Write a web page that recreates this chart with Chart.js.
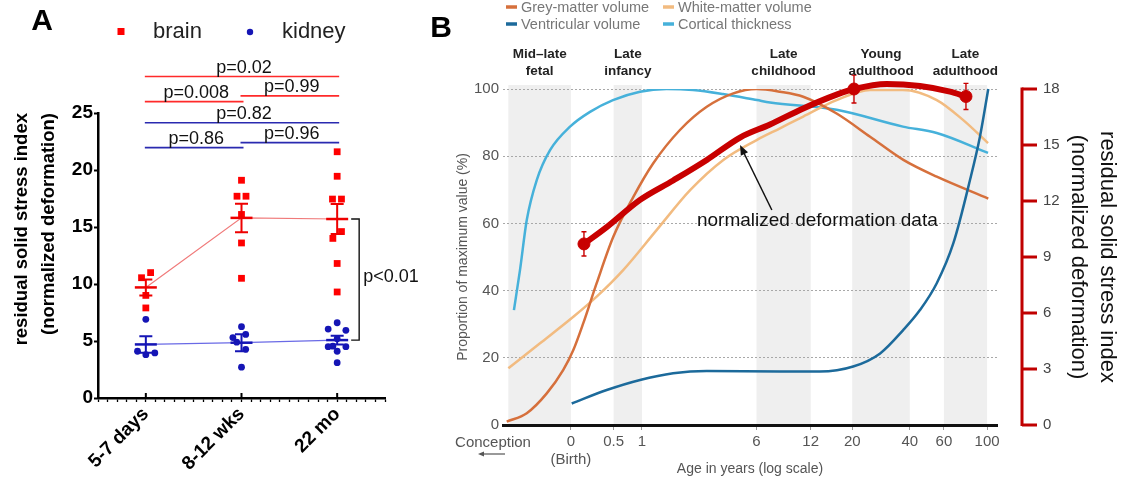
<!DOCTYPE html>
<html><head><meta charset="utf-8">
<script src="https://cdn.jsdelivr.net/npm/chart.js@4.4.1/dist/chart.umd.min.js"></script>
<style>
html,body{margin:0;padding:0;background:#fff;width:1126px;height:480px;overflow:hidden;}
#wa{position:absolute;left:0;top:0;width:430px;height:480px;}
#wb{position:absolute;left:430px;top:0;width:696px;height:480px;}
</style></head><body>
<div id="wa"><canvas id="ca" width="430" height="480"></canvas></div>
<div id="wb"><canvas id="cb" width="696" height="480"></canvas></div>
<script>
// ---------------- Panel A data ----------------
const groupLabels = ['5-7 days', '8-12 wks', '22 mo'];
const groupPos = [1, 2, 3];
const brainX = [0.955, 1.05, 1.0, 1.0, 2.0, 1.953, 2.047, 2.0, 2.0, 2.0, 3.0, 3.0, 2.951, 3.045, 2.955, 3.045, 3.0, 3.0];
const brainY = [10.55, 11.0, 9.0, 7.9, 19.1, 17.7, 17.7, 16.1, 13.6, 10.5, 21.6, 19.45, 17.45, 17.45, 14.0, 14.6, 11.8, 9.3];
const kidneyX = [1.0, 0.913, 1.0, 1.094, 2.0, 1.91, 2.044, 1.95, 2.044, 2.0, 3.0, 2.906, 3.091, 3.0, 2.955, 2.906, 3.091, 3.0, 3.0];
const kidneyY = [6.9, 4.1, 3.8, 3.95, 6.26, 5.3, 5.58, 4.9, 4.27, 2.7, 6.6, 6.05, 5.94, 5.2, 4.55, 4.5, 4.5, 4.1, 3.1];
const brainMean = [9.7, 15.8, 15.7];
const brainSem = [0.7, 1.25, 1.32];
const kidneyMean = [4.7, 4.85, 5.08];
const kidneySem = [0.72, 0.75, 0.38];
const yTicksA = [0, 5, 10, 15, 20, 25];
// pairwise comparisons
const pText = ['p=0.02', 'p=0.008', 'p=0.99', 'p=0.82', 'p=0.86', 'p=0.96'];
const pFrom = [1, 1, 2, 1, 1, 2];
const pTo = [3, 2, 3, 3, 2, 3];
const pLevel = [28.2, 26.0, 26.5, 24.15, 21.96, 22.4];
const pSeries = [0, 0, 0, 1, 1, 1];
const bracketText = 'p<0.01';

// ---------------- Panel B data ----------------
const GEST = 0.77; // years from conception to birth (x axis is post-conception age, log)
const xTickAges = [0, 0.5, 1, 6, 12, 20, 40, 60, 100];
const xTickLabels = ['0', '0.5', '1', '6', '12', '20', '40', '60', '100'];
const stageFrom = [-0.40, 0.5, 6, 20, 60];
const stageTo = [0, 1, 12, 40, 100];
const stageLine1 = ['Mid\u2013late', 'Late', 'Late', 'Young', 'Late'];
const stageLine2 = ['fetal', 'infancy', 'childhood', 'adulthood', 'adulthood'];
// curves: x = post-conception age (years), y = % of maximum
const greyX = [0.363, 0.459, 0.580, 0.704, 0.792, 0.890, 1.041, 1.265, 1.60, 2.02, 2.76, 3.78, 5.16, 6.78, 8.91, 11.7, 17.3, 25.6, 37.8, 55.9, 102.2];
const greyY = [1.0, 3.5, 9.4, 16.4, 22.3, 30.3, 42.2, 56.0, 67.9, 77.9, 87.8, 94.7, 98.7, 100, 99.2, 97.7, 92.7, 85.8, 78.9, 73.9, 67.4];
const whiteX = [0.370, 0.536, 0.792, 1.041, 1.42, 2.10, 3.11, 4.59, 6.78, 8.91, 11.7, 17.3, 25.6, 37.6, 55.9, 76.0, 101.9];
const whiteY = [16.9, 24.3, 32.2, 38.2, 46.1, 58.0, 69.9, 78.9, 84.8, 88.3, 91.8, 96.7, 99.7, 99.7, 96.7, 90.8, 83.9];
const ventX = [0.777, 1.171, 1.73, 2.55, 3.78, 8.91, 14.2, 21.0, 28.8, 37.8, 45.9, 55.9, 67.9, 82.5, 92.7, 102.2];
const ventY = [6.4, 10.4, 13.4, 15.4, 16.1, 15.9, 15.9, 17.4, 21.3, 28.3, 34.2, 42.2, 54.1, 72.9, 85.8, 100];
const cortX = [0.395, 0.424, 0.459, 0.516, 0.603, 0.762, 0.963, 1.26, 1.73, 2.36, 3.22, 4.57, 6.81, 7.93, 17.3, 37.6, 55.9, 101.9];
const cortY = [34.2, 46.1, 61.0, 72.9, 81.8, 88.8, 93.2, 96.7, 99.2, 100, 99.7, 98.5, 96.7, 96.0, 93.8, 88.8, 86.9, 81.0];
// normalized deformation (right axis units)
const defX = [0.897, 1.171, 1.73, 2.55, 3.78, 5.58, 7.93, 11.7, 17.3, 21.2, 31.1, 45.9, 65.3, 78.7];
const defY = [9.7, 10.6, 12.06, 13.1, 14.2, 15.4, 16.1, 16.96, 17.7, 18.0, 18.27, 18.16, 17.86, 17.6];
const markX = [0.897, 21.2, 78.7];
const markY = [9.7, 18.0, 17.6];
const markErr = [0.65, 0.75, 0.7];
const annotText = 'normalized deformation data';
const annotAt = [3.37, 60.7];      // x (post-conception yrs), y (%)
const arrowTail = [8.1, 64.0];
const arrowHead = [5.58, 83.3];

// ---------------- helpers ----------------
const FF = '"Liberation Sans", Arial, Helvetica, sans-serif';
Chart.defaults.font.family = FF;
const zip = (xs, ys) => xs.map((v, i) => ({x: v, y: ys[i]}));
const RED = '#ff0000', BLUE = '#1515b5';

function arrow(ctx, x1, y1, x2, y2, len, hw, color, lw) {
  const a = Math.atan2(y2 - y1, x2 - x1);
  ctx.strokeStyle = color; ctx.fillStyle = color; ctx.lineWidth = lw;
  ctx.beginPath(); ctx.moveTo(x1, y1);
  ctx.lineTo(x2 - Math.cos(a) * len * 0.8, y2 - Math.sin(a) * len * 0.8); ctx.stroke();
  ctx.beginPath(); ctx.moveTo(x2, y2);
  ctx.lineTo(x2 - Math.cos(a) * len - Math.sin(a) * hw, y2 - Math.sin(a) * len + Math.cos(a) * hw);
  ctx.lineTo(x2 - Math.cos(a) * len + Math.sin(a) * hw, y2 - Math.sin(a) * len - Math.cos(a) * hw);
  ctx.closePath(); ctx.fill();
}

// ---------------- Panel A ----------------
const aPlugin = {
  id: 'aExtras',
  afterDatasetsDraw(chart) {
    const {ctx, scales: {x, y}} = chart;
    ctx.save();
    ctx.lineWidth = 2;
    [[brainMean, brainSem, '#ee0000'], [kidneyMean, kidneySem, BLUE]].forEach(([m, s, c]) => {
      ctx.strokeStyle = c;
      groupPos.forEach((g, i) => {
        const px = x.getPixelForValue(g);
        const t = y.getPixelForValue(m[i] + s[i]), b = y.getPixelForValue(m[i] - s[i]);
        ctx.beginPath();
        ctx.moveTo(px, t); ctx.lineTo(px, b);
        ctx.moveTo(px - 6.5, t); ctx.lineTo(px + 6.5, t);
        ctx.moveTo(px - 6.5, b); ctx.lineTo(px + 6.5, b);
        ctx.stroke();
      });
    });
    ctx.restore();
  },
  afterDraw(chart) {
    const {ctx, scales: {x, y}} = chart;
    ctx.save();
    // panel letter
    ctx.fillStyle = '#000'; ctx.font = 'bold 30px ' + FF;
    ctx.textAlign = 'center'; ctx.textBaseline = 'middle';
    ctx.fillText('A', 42, 22);
    // legend
    const ds = chart.data.datasets;
    ctx.font = '22px ' + FF; ctx.textAlign = 'left'; ctx.fillStyle = '#222';
    ctx.fillStyle = ds[0].backgroundColor; ctx.fillRect(117.5, 28, 7, 7);
    ctx.fillStyle = '#222'; ctx.fillText(ds[0].label, 153, 32);
    ctx.fillStyle = ds[1].backgroundColor; ctx.beginPath(); ctx.arc(250, 32, 3.2, 0, Math.PI * 2); ctx.fill();
    ctx.fillStyle = '#222'; ctx.fillText(ds[1].label, 282, 32);
    // comparison bars
    ctx.font = '18px ' + FF; ctx.textAlign = 'center'; ctx.textBaseline = 'alphabetic';
    pText.forEach((t, i) => {
      const col = pSeries[i] === 0 ? '#ff2a2a' : '#2a2ab0';
      const x1 = x.getPixelForValue(pFrom[i]) - 1, x2 = x.getPixelForValue(pTo[i]) + 2;
      const py = y.getPixelForValue(pLevel[i]);
      ctx.strokeStyle = col; ctx.lineWidth = 1.6;
      ctx.beginPath(); ctx.moveTo(x1, py); ctx.lineTo(x2, py); ctx.stroke();
      ctx.fillStyle = '#111';
      ctx.fillText(t, (x1 + x2) / 2 + 2, py - 4);
    });
    // bracket between brain and kidney at last group
    const bx = x.getPixelForValue(groupPos[2]) + 22;
    const by1 = y.getPixelForValue(brainMean[2]), by2 = y.getPixelForValue(kidneyMean[2]);
    ctx.strokeStyle = '#111'; ctx.lineWidth = 1.4;
    ctx.beginPath();
    ctx.moveTo(bx - 8, by1); ctx.lineTo(bx, by1); ctx.lineTo(bx, by2); ctx.lineTo(bx - 8, by2);
    ctx.stroke();
    ctx.fillStyle = '#111'; ctx.textAlign = 'left'; ctx.textBaseline = 'middle';
    ctx.fillText(bracketText, bx + 4, (by1 + by2) / 2 - 3);
    // major ticks pointing up into the plot
    ctx.strokeStyle = '#000'; ctx.lineWidth = 2;
    groupPos.forEach(g => {
      const px = x.getPixelForValue(g);
      ctx.beginPath(); ctx.moveTo(px, y.bottom); ctx.lineTo(px, y.bottom - 5); ctx.stroke();
    });
    ctx.restore();
  }
};

new Chart(document.getElementById('ca'), {
  type: 'scatter',
  data: {
    datasets: [
      {label: 'brain', data: zip(brainX, brainY), pointStyle: 'rect', pointRadius: 4.8,
       backgroundColor: RED, borderColor: RED, pointBorderWidth: 0, order: 3},
      {label: 'kidney', data: zip(kidneyX, kidneyY), pointStyle: 'circle', pointRadius: 3.4,
       backgroundColor: BLUE, borderColor: BLUE, pointBorderWidth: 0, order: 4},
      {label: 'brain mean', type: 'line', data: zip(groupPos, brainMean), showLine: true,
       borderColor: '#f07a7a', borderWidth: 1.2, pointStyle: 'line', pointRadius: 11,
       pointBorderColor: '#ee0000', pointBorderWidth: 2.5, order: 1},
      {label: 'kidney mean', type: 'line', data: zip(groupPos, kidneyMean), showLine: true,
       borderColor: '#6a6ae6', borderWidth: 1.2, pointStyle: 'line', pointRadius: 11,
       pointBorderColor: BLUE, pointBorderWidth: 2.5, order: 2}
    ]
  },
  options: {
    responsive: false, animation: false, devicePixelRatio: 1, events: [],
    layout: {padding: {top: 113, right: 45, left: 0, bottom: 0}},
    plugins: {legend: {display: false}, tooltip: {enabled: false}},
    scales: {
      x: {
        type: 'linear', min: 0.5, max: 3.5,
        afterBuildTicks: s => { const t = []; for (let i = 5; i <= 35; i++) t.push({value: i / 10}); s.ticks = t; },
        afterFit: s => { s.height = 82; },
        ticks: {
          autoSkip: false, minRotation: 45, maxRotation: 45, padding: 1, color: '#000',
          font: {size: 19, weight: 'bold'},
          callback: v => { const r = Math.round(v); return Math.abs(v - r) < 1e-6 && r >= 1 && r <= 3 ? groupLabels[r - 1] : ''; }
        },
        grid: {drawOnChartArea: false, tickLength: 4, tickWidth: 1.3, tickColor: '#000'},
        border: {display: true, color: '#000', width: 2.5}
      },
      y: {
        type: 'linear', min: 0, max: 25,
        afterBuildTicks: s => { s.ticks = yTicksA.map(v => ({value: v})); },
        afterFit: s => { s.width = 98; },
        ticks: {color: '#000', font: {size: 19, weight: 'bold'}, padding: 1},
        grid: {drawOnChartArea: false, tickLength: 4, tickWidth: 2, tickColor: '#000'},
        border: {display: true, color: '#000', width: 2.5},
        title: {display: true, text: ['residual solid stress index', '(normalized deformation)'],
                color: '#000', align: 'end', font: {size: 18.5, weight: 'bold', lineHeight: 1.46},
                padding: {top: 8.5, bottom: 0}}
      }
    }
  },
  plugins: [aPlugin]
});

// ---------------- Panel B ----------------
const bPlugin = {
  id: 'bExtras',
  beforeDraw(chart) {
    const {ctx, chartArea: ca, scales: {x}} = chart;
    ctx.save();
    ctx.fillStyle = '#efefef';
    stageFrom.forEach((f, i) => {
      const x0 = x.getPixelForValue(f + GEST), x1 = x.getPixelForValue(stageTo[i] + GEST);
      ctx.fillRect(x0, ca.top - 4, x1 - x0, ca.bottom - ca.top + 4);
    });
    ctx.restore();
  },
  afterDatasetsDraw(chart) {
    const {ctx, scales: {x, y2}} = chart;
    ctx.save();
    ctx.strokeStyle = '#c80000'; ctx.lineWidth = 1.4;
    markX.forEach((mx, i) => {
      const px = x.getPixelForValue(mx);
      const t = y2.getPixelForValue(markY[i] + markErr[i]), b = y2.getPixelForValue(markY[i] - markErr[i]);
      ctx.beginPath();
      ctx.moveTo(px, t); ctx.lineTo(px, b);
      ctx.moveTo(px - 2.5, t); ctx.lineTo(px + 2.5, t);
      ctx.moveTo(px - 2.5, b); ctx.lineTo(px + 2.5, b);
      ctx.stroke();
    });
    ctx.restore();
  },
  afterDraw(chart) {
    const {ctx, chartArea: ca, scales: {x, y, y2}} = chart;
    const ds = chart.data.datasets;
    ctx.save();
    // panel letter
    ctx.fillStyle = '#000'; ctx.font = 'bold 30px ' + FF;
    ctx.textAlign = 'center'; ctx.textBaseline = 'middle';
    ctx.fillText('B', 11, 29);
    // legend 2x2
    const legendOrder = [2, 3, 4, 5];
    const colX = [76, 233], rowY = [7, 24];
    ctx.font = '14.5px ' + FF; ctx.textAlign = 'left';
    legendOrder.forEach((di, k) => {
      const cx = colX[k % 2], cy = rowY[Math.floor(k / 2)];
      ctx.strokeStyle = ds[di].borderColor; ctx.lineWidth = 3.5;
      ctx.beginPath(); ctx.moveTo(cx, cy); ctx.lineTo(cx + 11, cy); ctx.stroke();
      ctx.fillStyle = '#777'; ctx.fillText(ds[di].label, cx + 15, cy + 1);
    });
    // stage labels
    ctx.font = 'bold 13.5px ' + FF; ctx.textAlign = 'center'; ctx.fillStyle = '#222';
    stageFrom.forEach((f, i) => {
      const cx = (x.getPixelForValue(f + GEST) + x.getPixelForValue(stageTo[i] + GEST)) / 2;
      ctx.fillText(stageLine1[i], cx, 54);
      ctx.fillText(stageLine2[i], cx, 71);
    });
    // red right axis
    const ax = ca.right + 25;
    ctx.strokeStyle = '#c00000'; ctx.lineWidth = 3; ctx.lineCap = 'butt';
    ctx.beginPath(); ctx.moveTo(ax, y2.getPixelForValue(y2.max) - 1.5); ctx.lineTo(ax, y2.getPixelForValue(y2.min) + 1); ctx.stroke();
    y2.ticks.forEach(t => {
      const py = y2.getPixelForValue(t.value);
      ctx.beginPath(); ctx.moveTo(ax, py); ctx.lineTo(ax + 15, py); ctx.stroke();
    });
    // annotation
    ctx.fillStyle = '#111'; ctx.font = '19px ' + FF; ctx.textAlign = 'left'; ctx.textBaseline = 'middle';
    ctx.fillText(annotText, x.getPixelForValue(annotAt[0]), y.getPixelForValue(annotAt[1]));
    arrow(ctx, x.getPixelForValue(arrowTail[0]), y.getPixelForValue(arrowTail[1]),
          x.getPixelForValue(arrowHead[0]), y.getPixelForValue(arrowHead[1]), 10, 4, '#111', 1.5);
    // conception / birth notes
    ctx.fillStyle = '#555'; ctx.font = '15px ' + FF; ctx.textAlign = 'center';
    ctx.fillText('Conception', 63, 443);
    arrow(ctx, 75, 454, 48, 454, 6, 2.5, '#555', 1.2);
    ctx.fillText('(Birth)', x.getPixelForValue(GEST), 460);
    ctx.restore();
  }
};

const lineBase = {pointRadius: 0, borderWidth: 2.5, fill: false, cubicInterpolationMode: 'monotone', yAxisID: 'y'};
new Chart(document.getElementById('cb'), {
  type: 'line',
  data: {
    datasets: [
      {label: 'normalized deformation data', data: zip(defX, defY), yAxisID: 'y2', borderColor: '#c80000',
       borderWidth: 6, pointRadius: 0, cubicInterpolationMode: 'monotone', clip: false, order: 1, borderCapStyle: 'round'},
      {label: 'deformation mean', data: zip(markX, markY), yAxisID: 'y2', showLine: false, pointRadius: 6,
       pointBackgroundColor: '#c80000', pointBorderColor: '#c80000', backgroundColor: '#c80000', borderColor: '#c80000', clip: false, order: 0},
      Object.assign({label: 'Grey-matter volume', data: zip(greyX, greyY), borderColor: '#d6703c', order: 3}, lineBase),
      Object.assign({label: 'White-matter volume', data: zip(whiteX, whiteY), borderColor: '#f2bb80', order: 4}, lineBase),
      Object.assign({label: 'Ventricular volume', data: zip(ventX, ventY), borderColor: '#1c6a9b', order: 2, clip: 3}, lineBase),
      Object.assign({label: 'Cortical thickness', data: zip(cortX, cortY), borderColor: '#46b1da', order: 5}, lineBase)
    ]
  },
  options: {
    responsive: false, animation: false, devicePixelRatio: 1, events: [],
    layout: {padding: {top: 89, left: 0, right: 0, bottom: 0}},
    plugins: {legend: {display: false}, tooltip: {enabled: false}},
    scales: {
      x: {
        type: 'logarithmic', position: 'bottom', min: 0.3475, max: 113.2, bounds: 'data',
        afterBuildTicks: s => { s.ticks = xTickAges.map(a => ({value: a + GEST})); },
        afterFit: s => { s.height = 55; },
        ticks: {autoSkip: false, maxRotation: 0, minRotation: 0, color: '#555', font: {size: 15}, padding: 3,
                callback: (v, i) => xTickLabels[i]},
        grid: {drawOnChartArea: false, drawTicks: true, tickLength: 5, tickColor: '#999'},
        border: {display: true, color: '#111', width: 3},
        title: {display: true, text: 'Age in years (log scale)', color: '#555', font: {size: 14},
                padding: {top: 0, bottom: 2.5}}
      },
      y: {
        type: 'linear', position: 'left', min: 0, max: 100,
        ticks: {stepSize: 20, color: '#555', font: {size: 15}, padding: 4},
        afterFit: s => { s.width = 73; },
        grid: {color: '#a8a8a8', lineWidth: 1, drawTicks: false},
        border: {display: false, dash: [2, 2]},
        title: {display: true, text: 'Proportion of maximum value (%)', color: '#555', font: {size: 14},
                padding: {top: 24.5, bottom: 0}}
      },
      y2: {
        type: 'linear', position: 'right', min: 0, max: 18,
        ticks: {stepSize: 3, color: '#444', font: {size: 15}, padding: 6},
        afterFit: s => { s.width = 129; },
        grid: {drawOnChartArea: false, drawTicks: true, tickLength: 40, tickColor: 'rgba(0,0,0,0)'},
        border: {display: false},
        title: {display: true, text: ['residual solid stress index', '(normalized deformation)'], color: '#111',
                font: {size: 22, lineHeight: 1.3}, padding: {top: 5, bottom: 0}}
      }
    }
  },
  plugins: [bPlugin]
});
</script>
</body></html>
